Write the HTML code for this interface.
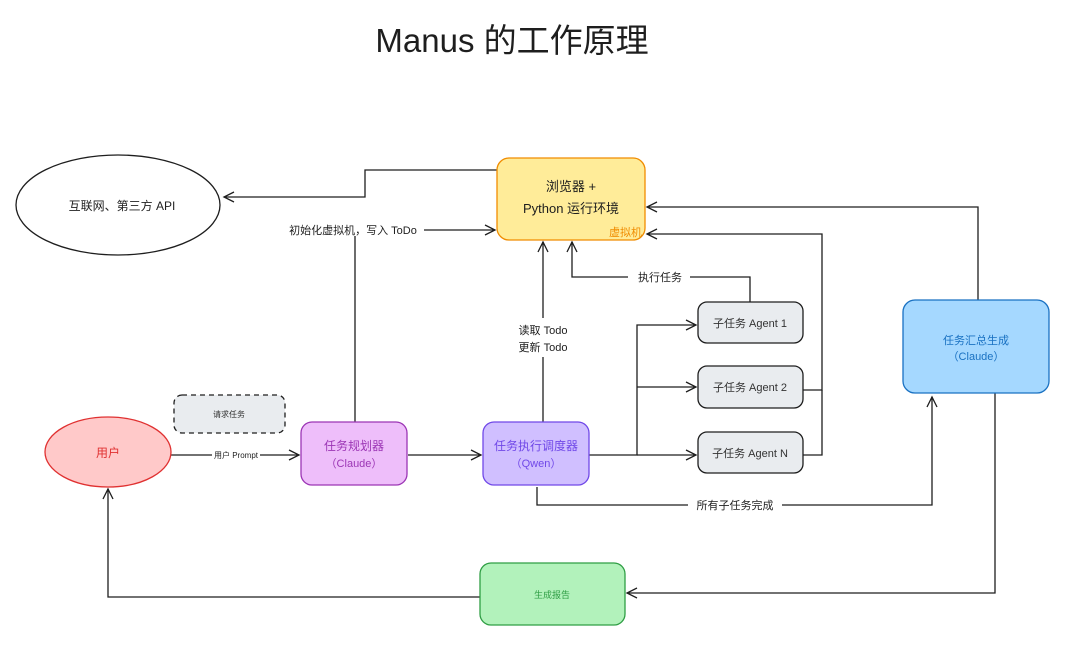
<!DOCTYPE html>
<html><head><meta charset="utf-8"><style>
html,body{margin:0;padding:0;background:#fff;}
svg{display:block;}
text{font-family:"Liberation Sans","Noto Sans CJK SC",sans-serif;}
</style></head><body>
<svg width="1080" height="646" viewBox="0 0 1080 646" xmlns="http://www.w3.org/2000/svg">
<defs>
<marker id="a" markerWidth="14" markerHeight="12" refX="11" refY="6" orient="auto" markerUnits="userSpaceOnUse">
<path d="M1,1 L11,6 L1,11" fill="none" stroke="#1e1e1e" stroke-width="1.3"/>
</marker>
</defs>
<rect width="1080" height="646" fill="#fff"/>
<text x="512" y="52" font-size="33" text-anchor="middle" fill="#1e1e1e">Manus 的工作原理</text>

<g fill="none" stroke="#1e1e1e" stroke-width="1.3">
<path d="M497,170 H365 V197 H224" marker-end="url(#a)"/>
<path d="M355,422 V236"/>
<path d="M424,230 H495" marker-end="url(#a)"/>
<path d="M543,422 V357"/>
<path d="M543,318 V242" marker-end="url(#a)"/>
<path d="M750,302 V277 H690"/>
<path d="M628,277 H572 V242" marker-end="url(#a)"/>
<path d="M803,390 H822 V234 H647" marker-end="url(#a)"/>
<path d="M803,455 H822 V390"/>
<path d="M589,455 H637 V325 H696" marker-end="url(#a)"/>
<path d="M637,387 H696" marker-end="url(#a)"/>
<path d="M637,455 H696" marker-end="url(#a)"/>
<path d="M537,487 V505 H688"/>
<path d="M782,505 H932 V397" marker-end="url(#a)"/>
<path d="M978,300 V207 H647" marker-end="url(#a)"/>
<path d="M995,393 V593 H627" marker-end="url(#a)"/>
<path d="M480,597 H108 V489" marker-end="url(#a)"/>
<path d="M171,455 H212"/>
<path d="M260,455 H299" marker-end="url(#a)"/>
<path d="M408,455 H481" marker-end="url(#a)"/>
</g>

<ellipse cx="118" cy="205" rx="102" ry="50" fill="#fff" stroke="#1e1e1e" stroke-width="1.3"/>
<text x="122" y="210" font-size="12" text-anchor="middle" fill="#1e1e1e">互联网、第三方 API</text>

<rect x="497" y="158" width="148" height="82" rx="12" fill="#ffec99" stroke="#f08c00" stroke-width="1.3"/>
<text x="571" y="191" font-size="13" text-anchor="middle" fill="#1e1e1e">浏览器 +</text>
<text x="571" y="213" font-size="13" text-anchor="middle" fill="#1e1e1e">Python 运行环境</text>
<text x="642" y="236" font-size="11" text-anchor="end" fill="#f08c00">虚拟机</text>

<text x="353" y="234" font-size="11" text-anchor="middle" fill="#1e1e1e">初始化虚拟机，写入 ToDo</text>
<text x="543" y="334" font-size="11" text-anchor="middle" fill="#1e1e1e">读取 Todo</text>
<text x="543" y="351" font-size="11" text-anchor="middle" fill="#1e1e1e">更新 Todo</text>
<text x="660" y="281" font-size="11" text-anchor="middle" fill="#1e1e1e">执行任务</text>
<text x="735" y="509" font-size="11" text-anchor="middle" fill="#1e1e1e">所有子任务完成</text>
<text x="236" y="458" font-size="8" text-anchor="middle" fill="#1e1e1e">用户 Prompt</text>

<g stroke="#1e1e1e" stroke-width="1.3" fill="#e9ecef">
<rect x="698" y="302" width="105" height="41" rx="9"/>
<rect x="698" y="366" width="105" height="42" rx="9"/>
<rect x="698" y="432" width="105" height="41" rx="9"/>
</g>
<text x="750" y="327" font-size="11" text-anchor="middle" fill="#333">子任务 Agent 1</text>
<text x="750" y="391" font-size="11" text-anchor="middle" fill="#333">子任务 Agent 2</text>
<text x="750" y="457" font-size="11" text-anchor="middle" fill="#333">子任务 Agent N</text>

<rect x="903" y="300" width="146" height="93" rx="12" fill="#a5d8ff" stroke="#1971c2" stroke-width="1.3"/>
<text x="976" y="344" font-size="11" text-anchor="middle" fill="#1971c2">任务汇总生成</text>
<text x="976" y="360" font-size="11" text-anchor="middle" fill="#1971c2">（Claude）</text>

<ellipse cx="108" cy="452" rx="63" ry="35" fill="#ffc9c9" stroke="#e03131" stroke-width="1.3"/>
<text x="108" y="457" font-size="12" text-anchor="middle" fill="#e03131">用户</text>

<rect x="174" y="395" width="111" height="38" rx="8" fill="#e9ecef" stroke="#1e1e1e" stroke-width="1.3" stroke-dasharray="5,4"/>
<text x="229" y="417" font-size="8" text-anchor="middle" fill="#333">请求任务</text>

<rect x="301" y="422" width="106" height="63" rx="11" fill="#eebefa" stroke="#9c36b5" stroke-width="1.3"/>
<text x="354" y="450" font-size="12" text-anchor="middle" fill="#9c36b5">任务规划器</text>
<text x="354" y="467" font-size="11" text-anchor="middle" fill="#9c36b5">（Claude）</text>

<rect x="483" y="422" width="106" height="63" rx="11" fill="#d0bfff" stroke="#7048e8" stroke-width="1.3"/>
<text x="536" y="450" font-size="12" text-anchor="middle" fill="#7048e8">任务执行调度器</text>
<text x="536" y="467" font-size="11" text-anchor="middle" fill="#7048e8">（Qwen）</text>

<rect x="480" y="563" width="145" height="62" rx="11" fill="#b2f2bb" stroke="#2f9e44" stroke-width="1.3"/>
<text x="552" y="598" font-size="9" text-anchor="middle" fill="#2f9e44">生成报告</text>
</svg>
</body></html>
